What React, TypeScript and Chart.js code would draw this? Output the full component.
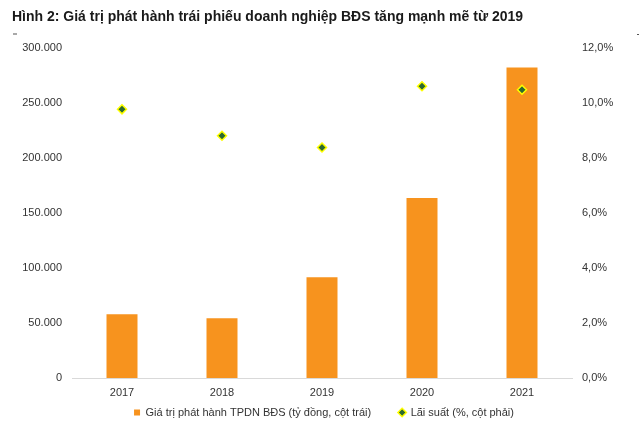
import React, { useEffect, useRef } from "react";
import { Chart, registerables } from "chart.js";

Chart.register(...registerables);

const TITLE = "Hình 2: Giá trị phát hành trái phiếu doanh nghiệp BĐS tăng mạnh mẽ từ 2019";
const YEARS = ["2017", "2018", "2019", "2020", "2021"];
const ISSUANCE = [57900, 54300, 91600, 163700, 282200];
const RATE = [9.77, 8.81, 8.38, 10.61, 10.48];
const BAR_LABEL = "Giá trị phát hành TPDN BĐS (tỷ đồng, cột trái)";
const RATE_LABEL = "Lãi suất (%, cột phải)";

const FONT = "'Liberation Sans', Arial, sans-serif";

const titlePlugin = {
  id: "customTitle",
  afterLayout(chart: any) {
    const lg = chart.legend;
    if (lg) {
      lg.top -= 21;
      lg.bottom -= 21;
      lg.left += 4;
      lg.right += 4;
    }
  },
  afterDraw(chart: any) {
    const ctx = chart.ctx;
    ctx.save();
    ctx.font = `bold 14px ${FONT}`;
    ctx.fillStyle = "#1a1a1a";
    ctx.textBaseline = "alphabetic";
    ctx.textAlign = "left";
    ctx.fillText(TITLE, 12, 21);
    ctx.fillStyle = "#555555";
    ctx.fillRect(13, 33.5, 4, 1);
    ctx.fillRect(637, 34, 2, 1);
    ctx.restore();
  },
};

export default function App() {
  const ref = useRef<HTMLCanvasElement>(null);
  useEffect(() => {
    if (!ref.current) return;
    const chart = new Chart(ref.current, {
      type: "bar",
      data: {
        labels: YEARS,
        datasets: [
          {
            type: "line",
            label: RATE_LABEL,
            data: RATE,
            yAxisID: "y1",
            showLine: false,
            pointStyle: "rectRot",
            pointRadius: 4.5,
            pointBackgroundColor: "#2d6a2f",
            pointBorderColor: "#ffff00",
            pointBorderWidth: 1.5,
            backgroundColor: "#2d6a2f",
            borderColor: "#ffff00",
            order: 0,
          } as any,
          {
            type: "bar",
            label: BAR_LABEL,
            data: ISSUANCE,
            yAxisID: "y",
            backgroundColor: "#f7931e",
            borderWidth: 0,
            barPercentage: 0.62,
            categoryPercentage: 0.5,
            pointStyle: "rect",
            order: 1,
          } as any,
        ],
      },
      options: {
        animation: false,
        responsive: false,
        maintainAspectRatio: false,
        layout: { padding: { top: 48, left: 0, right: 0, bottom: -15 } },
        plugins: {
          title: { display: false },
          tooltip: { enabled: false },
          legend: {
            position: "bottom",
            reverse: true,
            labels: {
              usePointStyle: true,
              boxWidth: 6,
              boxHeight: 6,
              padding: 28,
              color: "#333333",
              font: { family: FONT, size: 11 },
            },
          },
        },
        scales: {
          x: {
            grid: { display: false, drawTicks: false },
            border: { display: true, color: "#d9d9d9", width: 1 },
            ticks: { color: "#333333", font: { family: FONT, size: 11 }, padding: 8 },
            afterFit: (s: any) => { s.height = 22; },
          },
          y: {
            position: "left",
            min: 0,
            max: 300000,
            grid: { display: false, drawTicks: false },
            border: { display: false },
            ticks: {
              stepSize: 50000,
              color: "#333333",
              font: { family: FONT, size: 11 },
              padding: 10,
              callback: (v: any) => (v === 0 ? "0" : Number(v).toLocaleString("de-DE")),
            },
            afterFit: (s: any) => { s.width = 72; },
          },
          y1: {
            position: "right",
            min: 0,
            max: 12,
            grid: { display: false, drawTicks: false },
            border: { display: false },
            ticks: {
              stepSize: 2,
              color: "#333333",
              font: { family: FONT, size: 11 },
              padding: 10,
              callback: (v: any) => Number(v).toFixed(1).replace(".", ",") + "%",
            },
            afterFit: (s: any) => { s.width = 68; },
          },
        },
      },
      plugins: [titlePlugin],
    } as any);
    return () => chart.destroy();
  }, []);
  return (
    <div style={{ position: "fixed", left: 0, top: 0, width: 640, height: 434, background: "#fff" }}>
      <canvas ref={ref} width={640} height={434} style={{ width: 640, height: 434 }} />
    </div>
  );
}
